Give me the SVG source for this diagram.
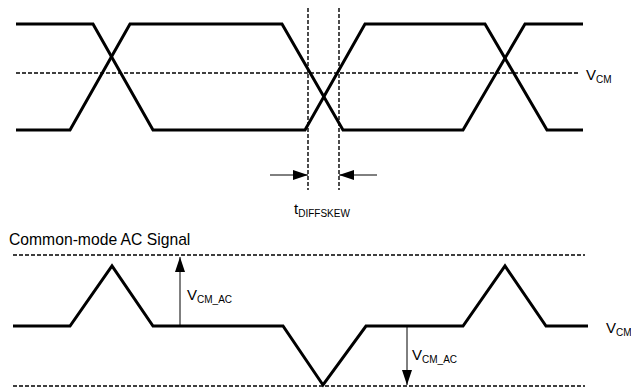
<svg xmlns="http://www.w3.org/2000/svg" width="631" height="388" viewBox="0 0 631 388">
<style>
.wave{fill:none;stroke:#000;stroke-width:3;stroke-linejoin:miter}
.dash{fill:none;stroke:#000;stroke-width:1.4;stroke-dasharray:4 2}
.thin{fill:none;stroke:#000;stroke-width:1}
text{font-family:"Liberation Sans",Arial,sans-serif;fill:#000}
.big{font-size:15px}
.sub{font-size:10px}
</style>
<defs>
<marker id="ah" markerUnits="userSpaceOnUse" markerWidth="15" markerHeight="10" refX="15" refY="5" orient="auto">
<path d="M0,0 L15,5 L0,10 z" fill="#000"/>
</marker>
</defs>
<rect width="631" height="388" fill="#fff"/>
<g id="eye">
<line class="dash" x1="16" y1="73" x2="580" y2="73"/>
<line class="dash" x1="308" y1="8" x2="308" y2="190"/>
<line class="dash" x1="339" y1="8" x2="339" y2="190"/>
<polyline class="wave" points="16,24 93,24 153,130 305,130 365,24 485,24 547,130 583,130"/>
<polyline class="wave" points="16,130 70,130 130,24 282,24 343,130 463,130 525,24 583,24"/>
</g>
<g id="connectors">
<line class="thin" x1="270" y1="175" x2="308" y2="175" marker-end="url(#ah)"/>
<line class="thin" x1="377" y1="175" x2="339" y2="175" marker-end="url(#ah)"/>
<line class="thin" x1="180" y1="326" x2="180" y2="257" marker-end="url(#ah)"/>
<line class="thin" x1="407" y1="326" x2="407" y2="385" marker-end="url(#ah)"/>
</g>
<g id="labels">
<text class="big" x="586" y="80">V<tspan class="sub" dy="3">CM</tspan></text>
<text class="big" x="294" y="214">t<tspan class="sub" dy="3">DIFFSKEW</tspan></text>
<text class="big" x="9" y="245" style="font-size:15.7px">Common-mode AC Signal</text>
<text class="big" x="187" y="300">V<tspan class="sub" dy="3">CM_AC</tspan></text>
<text class="big" x="412" y="360">V<tspan class="sub" dy="3">CM_AC</tspan></text>
<text class="big" x="606" y="333">V<tspan class="sub" dy="3">CM</tspan></text>
</g>
<g id="cm-ac">
<line class="dash" x1="13" y1="255" x2="585" y2="255"/>
<line class="dash" x1="13" y1="386" x2="585" y2="386"/>
<polyline class="wave" points="13,326 70,326 112,266 153,326 283,326 323,385 366,326 463,326 505,266 546,326 588,326"/>
</g>
</svg>
